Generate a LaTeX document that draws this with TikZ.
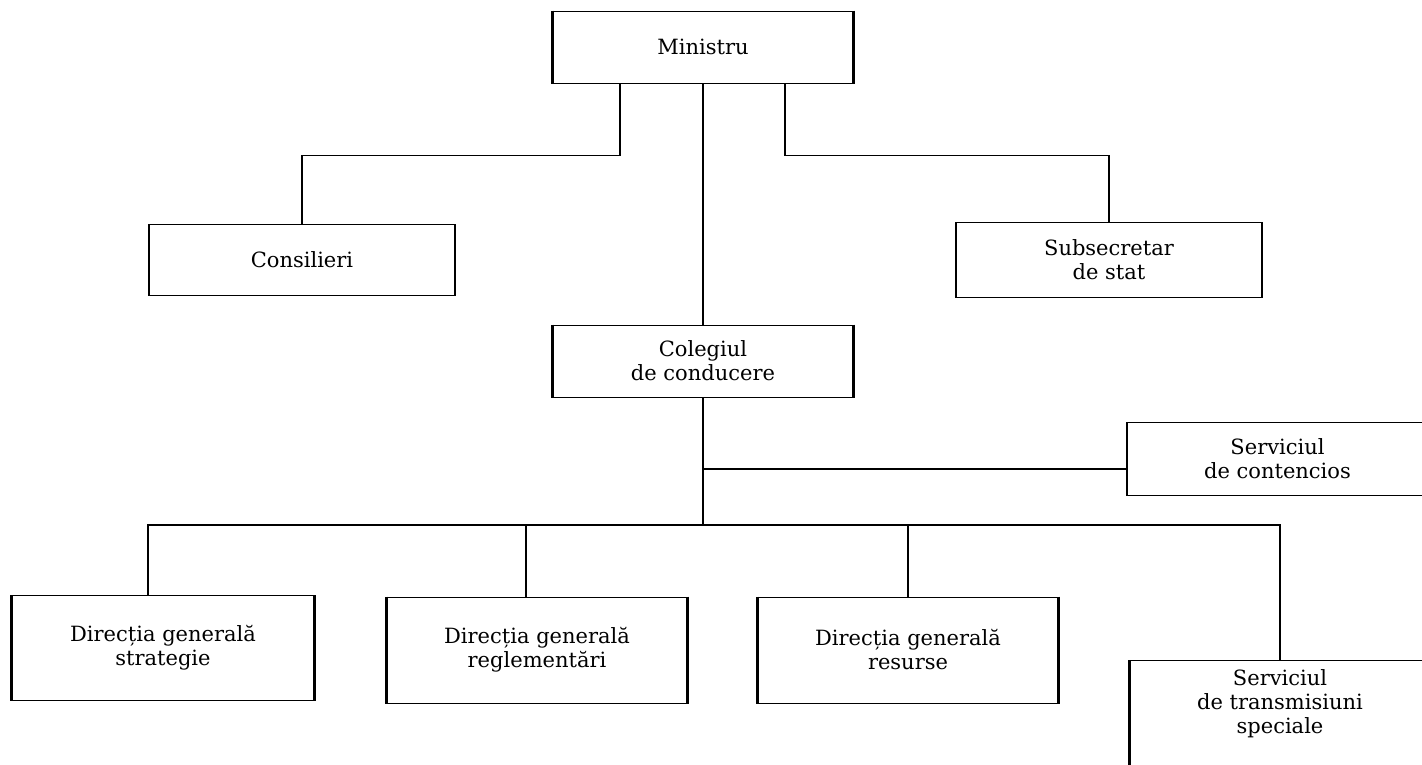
\documentclass[tikz,border=0pt]{standalone}
\usepackage{fontspec}
\setmainfont{DejaVu Serif}

\begin{document}
\begin{tikzpicture}[x=1pt, y=-1pt,
    box/.style = {draw, line width=1pt, align=center,
                  font=\fontsize{21}{24}\selectfont,
                  minimum width=300, minimum height=72,
                  append after command={
                    (\tikzlastnode.north west) edge[line width=2.2pt] (\tikzlastnode.south west)
                    (\tikzlastnode.north east) edge[line width=2.2pt] (\tikzlastnode.south east)}},
    link/.style = {line width=1.3pt}]
    \useasboundingbox (0,0) rectangle (1422,764);
    % top
    \node[box] (min) at (703,47) {Ministru};
    \node[box, minimum width=305, minimum height=71] (cons) at (302,260) {Consilieri};
    \node[box, minimum width=305, minimum height=75] (sub) at (1109,260) {Subsecretar\\de stat};
    \node[box] (col) at (703,361) {Colegiul\\de conducere};
    \node[box, anchor=north west, minimum height=73] (cont) at (1127,422) {Serviciul\\de contencios};
    % bottom row
    \node[box, minimum width=302, minimum height=105] (strat) at (163,648) {Direcția generală\\strategie};
    \node[box, minimum height=106] (regl) at (537,650) {Direcția generală\\reglementări};
    \node[box, minimum height=106] (res) at (908,650) {Direcția generală\\resurse};
    \node[box, anchor=north, minimum height=0, text depth=90pt, inner ysep=9pt] (trans) at (1280,660) {Serviciul\\de transmisiuni\\speciale};
    \draw[link] ([xshift=-83]min.south) -- ++(0,72) -| (cons.north);
    \draw[link] ([xshift=82]min.south) -- ++(0,72) -| (sub.north);
    \draw[link] (min.south) -- (col.north);
    \coordinate (bus) at (703,525);
    \draw[link] (col.south) -- (bus);
    \draw[link] (cont.west) ++(0,10) coordinate (k) -- (k -| col.south);
    \draw[link] ([xshift=-15]strat.north) |- (bus) -| (trans.north);
    \draw[link] ([xshift=-11]regl.north) -- ++(0,-72);
    \draw[link] (res.north) -- (res.north |- bus);
\end{tikzpicture}
\end{document}
